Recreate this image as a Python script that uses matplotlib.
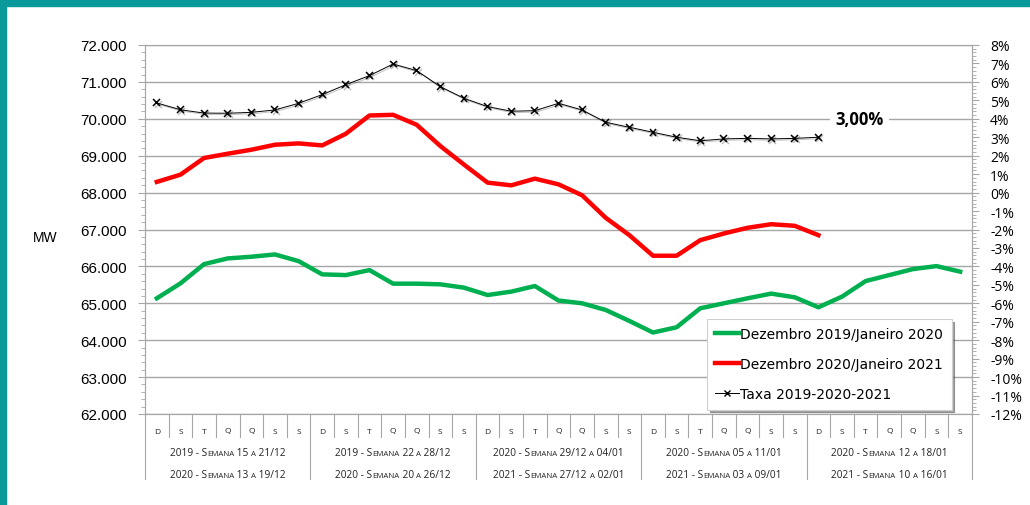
import numpy as np
import matplotlib.pyplot as plt
from matplotlib import transforms
from matplotlib import patheffects
from matplotlib.lines import Line2D
from matplotlib.patches import Rectangle
from matplotlib.ticker import MultipleLocator, FuncFormatter

# ======================
# DATA
# ======================
days = ["D", "S", "T", "Q", "Q", "S", "S"] * 5
weeks_top = ["2019 - Semana 15 a 21/12", "2019 - Semana 22 a 28/12",
             "2020 - Semana 29/12 a 04/01", "2020 - Semana 05 a 11/01",
             "2020 - Semana 12 a 18/01"]
weeks_bottom = ["2020 - Semana 13 a 19/12", "2020 - Semana 20 a 26/12",
                "2021 - Semana 27/12 a 02/01", "2021 - Semana 03 a 09/01",
                "2021 - Semana 10 a 16/01"]

green = [65135, 65540, 66062, 66216, 66262, 66324, 66143, 65784, 65765, 65900,
         65532, 65532, 65514, 65424, 65224, 65316, 65468, 65075, 65000, 64819,
         64522, 64208, 64351, 64865, 65000, 65135, 65262, 65162, 64892, 65181,
         65603, 65765, 65927, 66008, 65857]
red = [68290, 68486, 68938, 69054, 69162, 69297, 69333, 69279, 69595, 70090,
       70108, 69838, 69262, 68760, 68270, 68197, 68378, 68224, 67927, 67316,
       66846, 66289, 66289, 66711, 66892, 67046, 67143, 67100, 66846]
taxa = [4.86, 4.49, 4.31, 4.30, 4.35, 4.48, 4.84, 5.31, 5.85, 6.34,
        6.97, 6.61, 5.74, 5.11, 4.66, 4.41, 4.44, 4.84, 4.48, 3.81,
        3.54, 3.27, 3.00, 2.81, 2.91, 2.94, 2.91, 2.94, 3.00]

labels = ["Dezembro 2019/Janeiro 2020", "Dezembro 2020/Janeiro 2021",
          "Taxa 2019-2020-2021"]

W, H = 1030, 506
GRID = "#A6A6A6"

fig = plt.figure(figsize=(W / 100, H / 100), dpi=100)
fig.patch.set_facecolor("white")

# teal frame
fig.patches.append(Rectangle((0, 1 - 7 / H), 1, 7 / H, transform=fig.transFigure,
                             color="#0A9A9C", zorder=0))
fig.patches.append(Rectangle((0, 0), 6 / W, 1, transform=fig.transFigure,
                             color="#0A9A9C", zorder=0))

ax_l, ax_r, ax_t, ax_b = 145, 972, 46, 415
ax = fig.add_axes([ax_l / W, 1 - ax_b / H, (ax_r - ax_l) / W, (ax_b - ax_t) / H])
ax_h = ax_b - ax_t

x = np.arange(len(days))

# ======================
# MW LINES
# ======================
ax.plot(x[:len(green)], green, color="#00B050", lw=3.2, zorder=3)
ax.plot(x[:len(red)], red, color="#FF0000", lw=3.2, zorder=3)

ax.set_xlim(-0.5, len(days) - 0.5)
ax.set_ylim(62000, 72000)
ax.set_xticks([])
ax.yaxis.set_major_locator(MultipleLocator(1000))
ax.yaxis.set_minor_locator(MultipleLocator(200))
ax.yaxis.set_major_formatter(FuncFormatter(lambda v, p: f"{v:,.0f}".replace(",", ".")))
ax.grid(axis="y", color=GRID, lw=1)
ax.set_axisbelow(True)
ax.tick_params(axis="y", which="major", length=5, color=GRID, pad=8,
               labelsize=11, labelfontfamily="Liberation Sans")
ax.tick_params(axis="y", which="minor", length=3, color=GRID)
for s in ax.spines.values():
    s.set_color(GRID)

fig.text(45 / W, 1 - 238 / H, "MW", ha="center", va="center", fontsize=10,
         family="Liberation Sans")

# ======================
# TAXA (right axis)
# ======================
ax2 = ax.twinx()
ax2.plot(x[:len(taxa)], taxa, color="black", lw=0.7, marker="x", ms=5, mew=1.1,
         path_effects=[patheffects.SimpleLineShadow(offset=(1, -1), alpha=0.25),
                       patheffects.Normal()])
ax2.set_ylim(-12, 8)
ax2.yaxis.set_major_locator(MultipleLocator(1))
ax2.yaxis.set_minor_locator(MultipleLocator(0.2))
ax2.yaxis.set_major_formatter(FuncFormatter(lambda v, p: f"{int(round(v))}%"))
ax2.tick_params(axis="y", which="major", length=5, color=GRID, pad=8,
                labelsize=10, labelfontfamily="Open Sans")
ax2.tick_params(axis="y", which="minor", length=3, color=GRID)
for s in ax2.spines.values():
    s.set_color(GRID)

ax2.text(29.75, 4.0, "3,00%", ha="center", va="center", fontsize=12,
         fontweight="bold", family="Open Sans", zorder=5,
         bbox=dict(facecolor="white", edgecolor="none", pad=4))

# ======================
# CATEGORY AXIS
# ======================
blend = transforms.blended_transform_factory(ax.transData, ax.transAxes)
for b in np.arange(-0.5, len(days)):
    is_week = (b + 0.5) % 7 == 0
    depth = 65 if is_week else 23
    ax.plot([b, b], [0, -depth / ax_h], color=GRID, lw=0.8, transform=blend,
            clip_on=False)

for i, d in enumerate(days):
    ax.text(i, -17 / ax_h, d, ha="center", va="center", fontsize=6,
            family="Open Sans", transform=blend, color="#222222")

renderer = fig.canvas.get_renderer()


def text_width(s, size):
    t1 = fig.text(0, 0, "|" + s + "|", fontsize=size, family="Open Sans")
    t2 = fig.text(0, 0, "||", fontsize=size, family="Open Sans")
    w = t1.get_window_extent(renderer).width - t2.get_window_extent(renderer).width
    t1.remove()
    t2.remove()
    return w


def small_caps(xc, y_px, s, fs):
    # lowercase letters drawn as smaller capitals, like Excel's small caps
    runs = []
    for ch in s:
        small = ch.islower()
        if runs and runs[-1][1] == small:
            runs[-1][0] += ch.upper()
        else:
            runs.append([ch.upper(), small])
    sizes = [fs * 0.78 if sm else fs for _, sm in runs]
    widths = [text_width(t, sz) for (t, _), sz in zip(runs, sizes)]
    off = -sum(widths) / 2
    for (t, _), sz, w in zip(runs, sizes, widths):
        tr = transforms.offset_copy(blend, fig=fig, x=off * 72 / fig.dpi, y=0,
                                    units="points")
        ax.text(xc, -(y_px - ax_b) / ax_h, t, transform=tr, fontsize=sz,
                ha="left", va="baseline", family="Open Sans", color="#222222",
                clip_on=False)
        off += w


for w in range(5):
    xc = 7 * w + 3
    small_caps(xc, 456.5, weeks_top[w], 7.3)
    small_caps(xc, 477.5, weeks_bottom[w], 7.3)

# ======================
# LEGEND
# ======================
handles = [Line2D([], [], color="#00B050", lw=3.2),
           Line2D([], [], color="#FF0000", lw=3.2),
           Line2D([], [], color="black", lw=0.7, marker="x", ms=5, mew=1.0)]
leg = ax2.legend(handles, labels, loc="upper left",
                 bbox_to_anchor=(707 / W, 1 - 320 / H), bbox_transform=fig.transFigure,
                 frameon=True, shadow=True, fancybox=False, edgecolor="#D0D0D0",
                 prop={"family": "DejaVu Sans", "size": 10}, handlelength=1.7,
                 labelspacing=1.15, borderpad=0.6, handletextpad=0.1,
                 borderaxespad=0)
leg.get_frame().set_linewidth(0.8)

fig.savefig("out.png", dpi=100)
